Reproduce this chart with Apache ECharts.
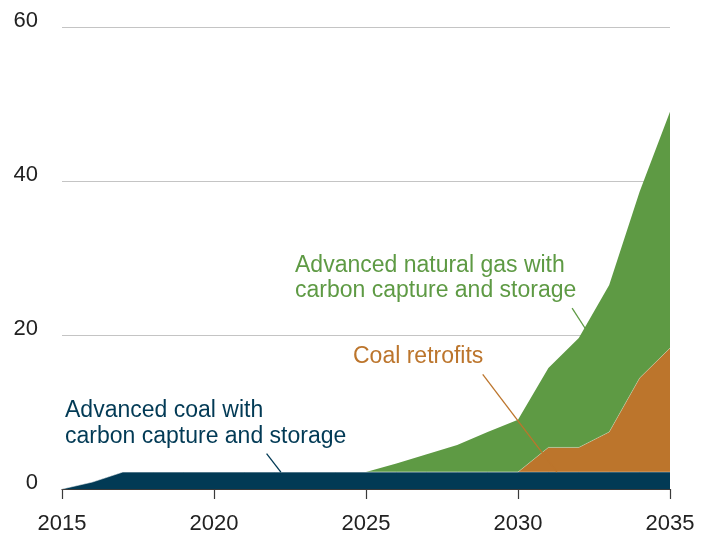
<!DOCTYPE html>
<html>
<head>
<meta charset="utf-8">
<script src="https://cdn.jsdelivr.net/npm/echarts@6/dist/echarts.min.js"></script>
<style>
  html, body { margin: 0; padding: 0; background: #fff; }
  #chart { width: 711px; height: 535px; }
</style>
</head>
<body>
<div id="chart"></div>
<script>
const years = ['2015','2016','2017','2018','2019','2020','2021','2022','2023','2024','2025','2026','2027','2028','2029','2030','2031','2032','2033','2034','2035'];
const coalCCS   = [0,0.9,2.2,2.2,2.2,2.2,2.2,2.2,2.2,2.2,2.2,2.2,2.2,2.2,2.2,2.2,2.2,2.2,2.2,2.2,2.2];
const retrofits = [0,0,0,0,0,0,0,0,0,0,0,0,0,0,0,0,3.2,3.2,5.2,12.2,16.1];
const gasCCS    = [0,0,0,0,0,0,0,0,0,0,0,1.1,2.3,3.5,5.2,6.8,10.3,14.2,19.1,24.2,30.7];
const yTicks = [0, 20, 40, 60];

const FONT = '"Liberation Sans", Arial, Helvetica, sans-serif';
const C_NAVY = '#023a55';
const C_ORANGE = '#bc752c';
const C_GREEN = '#5e9a44';

// leader lines for annotations, in data units on a hidden value x-axis
function leader(name, color, a, b) {
  return {
    name: name, type: 'line', xAxisIndex: 1, yAxisIndex: 0,
    symbol: 'none', silent: true, z: 5,
    data: [a, b],
    lineStyle: { color: color, width: 1.3 },
    tooltip: { show: false }
  };
}

const chart = echarts.init(document.getElementById('chart'), null, { renderer: 'canvas' });
const option = {
  animation: false,
  backgroundColor: '#ffffff',
  grid: { left: 62, right: 41, top: 27, bottom: 46, containLabel: false },
  xAxis: [
    {
      type: 'category', data: years, boundaryGap: false,
      axisLine: { show: true, lineStyle: { color: '#3a3a3a', width: 1.2 } },
      axisTick: { show: true, length: 10, interval: 4, lineStyle: { color: '#3a3a3a', width: 1.2 } },
      splitLine: { show: false },
      axisLabel: { interval: 4, margin: 24, fontSize: 22, color: '#222', fontFamily: FONT }
    },
    { type: 'value', min: 2015, max: 2035, show: false }
  ],
  yAxis: {
    type: 'value',
    min: yTicks[0], max: yTicks[yTicks.length - 1], interval: 20,
    axisLine: { show: false },
    axisTick: { show: false },
    splitLine: { show: true, lineStyle: { color: '#c4c4c4', width: 1 } },
    axisLabel: { margin: 24, fontSize: 22, color: '#222', fontFamily: FONT, verticalAlign: 'bottom', lineHeight: 12 }
  },
  series: [
    {
      name: 'Advanced coal with carbon capture and storage',
      type: 'line', stack: 'total', symbol: 'none',
      data: coalCCS,
      lineStyle: { width: 0.8, color: 'rgba(255,255,255,0.45)' },
      areaStyle: { color: C_NAVY, opacity: 1 },
      z: 2
    },
    {
      name: 'Coal retrofits',
      type: 'line', stack: 'total', symbol: 'none',
      data: retrofits,
      lineStyle: { width: 0.8, color: 'rgba(255,255,255,0.35)' },
      areaStyle: { color: C_ORANGE, opacity: 1 },
      z: 2
    },
    {
      name: 'Advanced natural gas with carbon capture and storage',
      type: 'line', stack: 'total', symbol: 'none',
      data: gasCCS,
      lineStyle: { width: 0 },
      areaStyle: { color: C_GREEN, opacity: 1 },
      z: 2
    },
    leader('coal leader', C_NAVY, [2021.73, 4.6], [2022.2, 2.2]),
    leader('retrofit leader', C_ORANGE, [2028.84, 14.9], [2031.28, 2.2]),
    leader('gas leader', C_GREEN, [2031.78, 23.5], [2032.35, 20.0])
  ],
  graphic: [
    { type: 'text', left: 295, top: 254, silent: true, style: { text: 'Advanced natural gas with', font: '23px ' + FONT, fill: C_GREEN } },
    { type: 'text', left: 295, top: 279, silent: true, style: { text: 'carbon capture and storage', font: '23px ' + FONT, fill: C_GREEN } },
    { type: 'text', left: 353, top: 345, silent: true, style: { text: 'Coal retrofits', font: '23px ' + FONT, fill: C_ORANGE } },
    { type: 'text', left: 65, top: 399, silent: true, style: { text: 'Advanced coal with', font: '23px ' + FONT, fill: C_NAVY } },
    { type: 'text', left: 65, top: 425, silent: true, style: { text: 'carbon capture and storage', font: '23px ' + FONT, fill: C_NAVY } }
  ]
};
chart.setOption(option);
</script>
</body>
</html>
